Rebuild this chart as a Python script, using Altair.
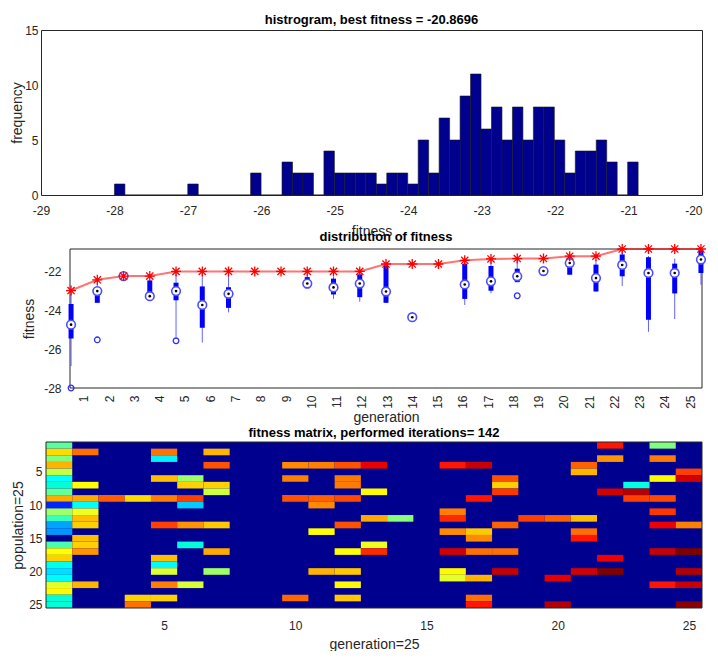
import altair as alt
import pandas as pd

# ---------------- panel 1: histogram of all evaluated fitness values ----------------
hist_counts = [1, 0, 0, 0, 0, 0, 0, 1, 0, 0, 0, 0, 0, 2, 0, 0, 3, 2, 2, 0,
               4, 2, 2, 2, 2, 1, 2, 2, 1, 5, 2, 7, 5, 9, 11, 6, 8, 5, 8, 5,
               8, 8, 5, 2, 4, 4, 5, 3, 0, 3]
fit_min = -28.0
best_fitness = -20.8696
hist_ticks = [-29, -28, -27, -26, -25, -24, -23, -22, -21, -20]
hist_yticks = [0, 5, 10, 15]

# ---------------- panel 2: distribution of fitness per generation ----------------
generations = list(range(1, 26))
best_so_far = [-23.0, -22.45, -22.26, -22.26, -22.02, -22.02, -22.02, -22.02, -22.02, -22.02,
               -22.02, -22.02, -21.64, -21.64, -21.64, -21.45, -21.38, -21.36, -21.36, -21.24,
               -21.24, -20.87, -20.87, -20.87, -20.87]
whisker_lo = [-26.87, -23.63, -22.26, -23.29, -25.38, -25.67, -24.12, None, None, -22.88,
              -23.43, -23.57, -23.63, -24.37, None, -23.74, -23.14, -22.57, -22.0, -22.19,
              -23.05, -22.77, -25.12, -24.46, -22.7]
box_lo = [-25.46, -23.63, -22.26, -23.29, -23.5, -24.91, -23.89, None, None, -22.88,
          -23.2, -23.34, -23.63, -24.37, None, -23.43, -23.01, -22.57, -22.0, -22.19,
          -23.05, -22.27, -24.5, -23.15, -22.1]
median = [-24.75, -23.03, -22.26, -23.29, -23.03, -23.74, -23.17, None, None, -22.64,
          -22.84, -22.64, -23.05, -24.37, None, -22.69, -22.53, -22.27, -22.0, -21.59,
          -22.36, -21.69, -22.1, -22.1, -21.41]
box_hi = [-23.69, -22.91, -22.26, -22.48, -22.6, -22.79, -22.83, None, None, -22.31,
          -22.39, -22.17, -21.74, -24.37, None, -21.62, -21.74, -21.88, -22.0, -21.36,
          -21.67, -21.15, -21.29, -21.62, -20.93]
whisker_hi = [-23.0, -22.45, -22.26, -22.48, -22.02, -22.02, -22.15, None, None, -22.15,
              -22.30, -22.08, -21.64, -24.37, None, -21.45, -21.38, -21.36, -22.0, -21.24,
              -21.44, -20.87, -21.23, -21.36, -20.87]
outlier_gen = [1, 2, 5, 18]
outlier_val = [-28.0, -25.53, -25.58, -23.27]

# ---------------- panel 3: fitness matrix (population x generation) ----------------
population = 25
first_generation = [-24.65, -23.29, -24.43, -23.01, -23.94, -25.33, -25.0, -24.58, -22.94, -27.0,
                    -24.22, -24.79, -26.0, -26.07, -28.0, -24.72, -23.54, -23.22, -25.15, -25.58,
                    -25.36, -23.72, -23.51, -25.0, -25.0]
# newly evaluated individuals for generations 2..25: rows and their fitness
new_rows = [
    [2, 7, 9, 10, 11, 12, 13, 15, 16, 17, 22],
    [9],
    [9, 24, 25],
    [2, 3, 6, 9, 13, 18, 19, 20, 22, 24],
    [6, 7, 9, 10, 13, 16, 22],
    [2, 4, 7, 8, 13, 17, 20],
    [],
    [],
    [4, 6, 9, 24],
    [4, 9, 10, 14, 20],
    [4, 6, 7, 9, 13, 17, 20, 22, 24],
    [4, 8, 12, 16, 17],
    [12],
    [],
    [4, 11, 12, 14, 17, 20, 21],
    [4, 9, 14, 15, 17, 21, 24, 25],
    [6, 7, 8, 13, 17, 20],
    [12],
    [12, 21, 25],
    [4, 5, 12, 14, 15, 20],
    [1, 3, 8, 18, 20],
    [7, 8, 9],
    [1, 3, 6, 9, 11, 13, 17, 22],
    [5, 6, 13, 17, 20, 22, 25],
]
new_fitness = [
    [-22.44, -23.54, -22.94, -25.33, -23.65, -23.08, -23.22, -23.08, -23.22, -22.79, -23.01],
    [-22.26],
    [-23.29, -23.22, -22.48],
    [-22.51, -25.43, -23.08, -22.65, -22.01, -23.08, -25.36, -23.79, -22.65, -23.22],
    [-24.22, -23.22, -22.01, -25.72, -22.79, -25.0, -23.79],
    [-23.01, -22.15, -23.22, -23.86, -23.15, -22.94, -24.22],
    [],
    [],
    [-22.72, -22.65, -22.15, -22.37],
    [-22.65, -22.30, -22.72, -23.54, -23.01],
    [-22.15, -22.58, -22.58, -22.08, -22.15, -23.54, -23.15, -23.51, -23.15],
    [-21.64, -23.51, -22.94, -23.65, -21.87],
    [-24.37],
    [],
    [-21.80, -22.65, -21.87, -22.72, -21.45, -23.51, -23.72],
    [-21.38, -21.80, -23.15, -22.72, -22.44, -23.01, -22.44, -21.80],
    [-22.15, -23.22, -21.94, -22.30, -22.44, -21.36],
    [-22.0],
    [-22.30, -21.58, -21.24],
    [-22.30, -23.01, -23.08, -22.44, -21.80, -21.44],
    [-21.80, -22.79, -21.44, -21.65, -20.87],
    [-25.08, -21.23, -22.01],
    [-24.43, -22.58, -23.51, -22.08, -21.94, -21.65, -21.37, -21.80],
    [-22.01, -21.44, -22.65, -20.87, -21.23, -21.37, -20.94],
]
jet_colors = ['#00008F', '#0000FF', '#0080FF', '#00FFFF', '#80FF80',
              '#FFFF00', '#FF8000', '#FF0000', '#800000']

# ---------------- tables ----------------
bin_w = (best_fitness - fit_min) / len(hist_counts)
hist_df = pd.DataFrame({
    'count': hist_counts,
    'lo': [fit_min + i * bin_w for i in range(len(hist_counts))],
})
hist_df['hi'] = hist_df['lo'] + bin_w
hist_df['zero'] = 0

box_df = pd.DataFrame({'gen': generations, 'best': best_so_far, 'wlo': whisker_lo,
                       'qlo': box_lo, 'med': median, 'qhi': box_hi, 'whi': whisker_hi})
out_df = pd.DataFrame({'gen': outlier_gen, 'val': outlier_val})

cells = []
for r, f in enumerate(first_generation, start=1):
    cells.append((1, r, f))
for g, (rows, fits) in enumerate(zip(new_rows, new_fitness), start=2):
    for r, f in zip(rows, fits):
        cells.append((g, r, f))
heat_df = pd.DataFrame(cells, columns=['gen', 'row', 'fit'])
heat_df['g0'] = heat_df['gen'] - 0.5
heat_df['g1'] = heat_df['gen'] + 0.5
heat_df['r0'] = heat_df['row'] - 0.5
heat_df['r1'] = heat_df['row'] + 0.5

FONT = 'Liberation Sans'
hyphen = "'' + datum.value"
FRAME = '#262626'
W = 661                       # common group width; panels 2 and 3 are shifted by their scale range
H1 = 165
OFF2, H2 = 29, 139            # panel 2 plot area: x from OFF2 to W
OFF3, H3 = 5, 166             # panel 3 plot area: x from OFF3 to W
W2, W3 = W - OFF2, W - OFF3
NAVY = '#00008F'

# ---------------- panel 1 ----------------
hist = alt.Chart(hist_df).mark_rect(fill=NAVY, stroke='#1a1a1a', strokeWidth=0.6).encode(
    x=alt.X('lo:Q', scale=alt.Scale(domain=[-29, -20], nice=False, zero=False),
            axis=alt.Axis(values=hist_ticks, labelExpr=hyphen, title='fitness',
                          labelAlign=alt.condition('datum.value == -20', alt.value('right'),
                                                   alt.value('center')),
                          labelPadding=10, titlePadding=8)),
    x2='hi:Q',
    y=alt.Y('count:Q', scale=alt.Scale(domain=[0, 15], nice=False),
            axis=alt.Axis(values=hist_yticks, title='frequency', labelPadding=3, titlePadding=0)),
    y2='zero:Q',
).properties(width=W, height=H1,
             title=alt.TitleParams('histrogram, best fitness = -20.8696', frame='group', offset=-3))

# ---------------- panel 2 ----------------
tick_pos = [1.49 + 0.9625 * (k - 1) for k in generations]
ax_x2 = alt.Axis(values=tick_pos, labelExpr="'' + (round((datum.value - 1.49) / 0.9625) + 1)",
                 labelAngle=270, labelAlign='right', labelBaseline='middle', labelPadding=7,
                 labelOverlap=False, labelFlush=False, title='generation', titlePadding=2,
                 titleX=OFF2 + W2 / 2)
ax_y2 = alt.Axis(values=[-28, -26, -24, -22], labelExpr=hyphen, title='fitness',
                 labelPadding=9, titlePadding=7, offset=-OFF2)
x_dom2 = [0.96, 25.04]
xs2 = alt.Scale(domain=x_dom2, range=[OFF2, W], nice=False, zero=False)
ys2 = alt.Scale(domain=[fit_min, best_fitness], nice=False, zero=False)


def X2(field='gen'):
    return alt.X(field + ':Q', scale=xs2, axis=ax_x2)


def Y2(field):
    return alt.Y(field + ':Q', scale=ys2, axis=ax_y2)


frame2_df = pd.DataFrame({'x0': [x_dom2[0]], 'x1': [x_dom2[1]], 'y0': [fit_min], 'y1': [best_fitness]})
frame2 = alt.Chart(frame2_df).mark_rect(fill=None, stroke=FRAME, strokeWidth=1).encode(
    x=X2('x0'), x2='x1:Q', y=Y2('y0'), y2='y1:Q')

STAR = 'M-1,0L1,0M0,-1L0,1M-0.72,-0.72L0.72,0.72M-0.72,0.72L0.72,-0.72'
b2 = alt.Chart(box_df)
whisk = b2.mark_rule(color='#3b3bff', opacity=0.8, strokeWidth=1).encode(x=X2(), y=Y2('wlo'), y2='whi:Q')
boxes = b2.mark_rule(color='#0000ff', strokeWidth=5).encode(x=X2(), y=Y2('qlo'), y2='qhi:Q')
bline = b2.mark_line(color='#ff0000', opacity=0.55, strokeWidth=2).encode(x=X2(), y=Y2('best'))
ring = b2.mark_point(shape='circle', filled=True, fill='white', stroke='#4d4dff', strokeWidth=1.6,
                     size=75, opacity=1).encode(x=X2(), y=Y2('med'))
dot = b2.mark_point(shape='circle', filled=True, color='black', size=7, opacity=1).encode(x=X2(), y=Y2('med'))
outl = alt.Chart(out_df).mark_point(shape='circle', filled=False, color='#2e2eff', size=32,
                                    strokeWidth=1.3, opacity=1).encode(x=X2(), y=Y2('val'))
stars = b2.mark_point(shape=STAR, filled=False, color='#ff0000', size=100, strokeWidth=1.3,
                      opacity=1).encode(x=X2(), y=Y2('best'))
panel2 = alt.layer(frame2, whisk, boxes, bline, ring, dot, outl, stars).properties(
    width=W, height=H2,
    title=alt.TitleParams('distribution of fitness', frame='group', dx=OFF2 / 2, offset=-3),
    view=alt.ViewBackground(strokeOpacity=0))

# ---------------- panel 3 ----------------
x_dom3 = [0.5, 25.5]
y_dom3 = [0.5, population + 0.5]
xs3 = alt.Scale(domain=x_dom3, range=[OFF3, W], nice=False, zero=False)
ys3 = alt.Scale(domain=y_dom3, reverse=True, nice=False, zero=False)
ax_x3 = alt.Axis(values=[5, 10, 15, 20, 25], title='generation=25', labelPadding=12,
                 titlePadding=6, titleX=OFF3 + W3 / 2)
ax_y3 = alt.Axis(values=[5, 10, 15, 20, 25], title='population=25', labelPadding=4,
                 titlePadding=3, offset=-OFF3)

bg3_df = pd.DataFrame({'x0': [x_dom3[0]], 'x1': [x_dom3[1]], 'y0': [y_dom3[0]], 'y1': [y_dom3[1]]})


def X3(field):
    return alt.X(field + ':Q', scale=xs3, axis=ax_x3)


def Y3(field):
    return alt.Y(field + ':Q', scale=ys3, axis=ax_y3)


bg3 = alt.Chart(bg3_df).mark_rect(fill=NAVY, strokeWidth=0).encode(
    x=X3('x0'), x2='x1:Q', y=Y3('y0'), y2='y1:Q')
cells3 = alt.Chart(heat_df).mark_rect().encode(
    x=X3('g0'), x2='g1:Q', y=Y3('r0'), y2='r1:Q',
    color=alt.Color('fit:Q', scale=alt.Scale(domain=[fit_min, best_fitness], range=jet_colors,
                                             clamp=True), legend=None),
)
frame3 = alt.Chart(bg3_df).mark_rect(fill=None, stroke=FRAME, strokeWidth=1).encode(
    x=X3('x0'), x2='x1:Q', y=Y3('y0'), y2='y1:Q')
panel3 = alt.layer(bg3, cells3, frame3).properties(
    width=W, height=H3,
    title=alt.TitleParams('fitness matrix, performed iterations= 142', frame='group',
                          dx=OFF3 / 2, offset=2),
    view=alt.ViewBackground(strokeOpacity=0))

chart = alt.vconcat(hist, panel2, panel3, spacing=54, bounds='flush').properties(
    padding={'left': 2, 'top': 5, 'right': 0, 'bottom': 0}
).configure_axis(
    labelFont=FONT, titleFont=FONT, labelFontSize=12, titleFontSize=14,
    titleFontWeight='normal', labelColor='#262626', titleColor='#262626',
    grid=False, ticks=False, domain=False,
).configure_title(
    font=FONT, fontSize=13, fontWeight='bold', color='#000000',
).configure_view(stroke=FRAME, strokeWidth=1)

chart.save('out.html', embed_options={'renderer': 'svg', 'actions': False})
